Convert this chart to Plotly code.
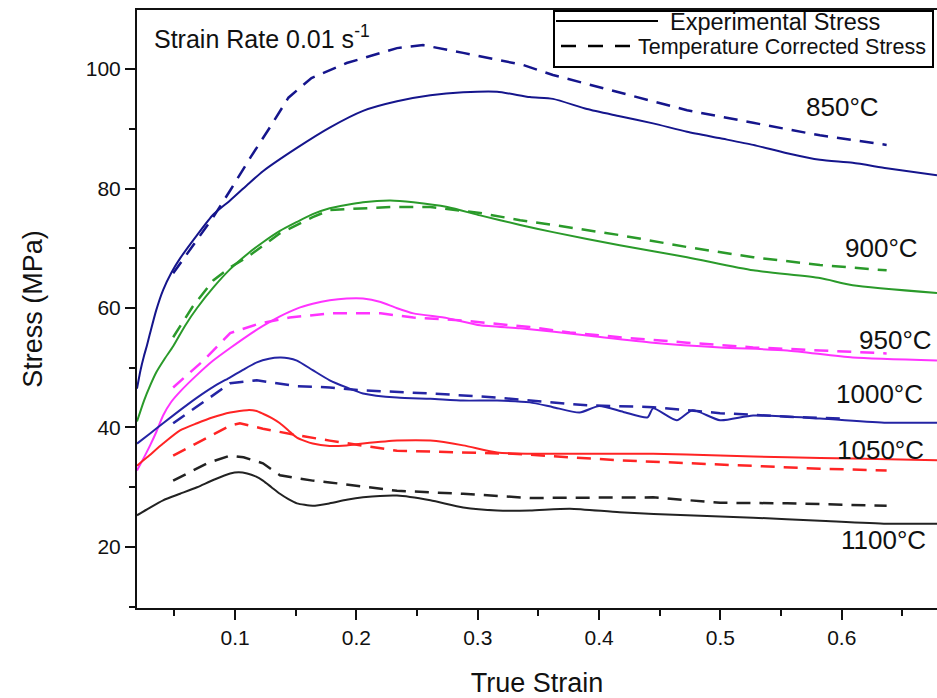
import plotly.graph_objects as go

# Flow curves at a strain rate of 0.01 s^-1 (true strain, stress in MPa)
x850 = [0.0192, 0.022, 0.025, 0.0275, 0.030, 0.035, 0.0407, 0.0475, 0.0547, 0.0687, 0.0819, 0.0959, 0.110, 0.123,
        0.151, 0.178, 0.2055, 0.2335, 0.261, 0.288, 0.316, 0.343, 0.362, 0.390, 0.417, 0.4445, 0.4725, 0.500,
        0.527, 0.555, 0.582, 0.609, 0.637, 0.6785]
y850 = [46.5, 49.5, 52.0, 53.8, 55.8, 59.6, 63.0, 65.9, 68.3, 72.2, 75.6, 78.0, 80.6, 82.9,
        86.8, 90.2, 93.0, 94.6, 95.6, 96.1, 96.2, 95.3, 95.0, 93.3, 92.1, 90.9, 89.5, 88.4,
        87.3, 85.9, 84.8, 84.3, 83.4, 82.2]
x850c = [0.049, 0.082, 0.097, 0.113, 0.128, 0.144, 0.163, 0.192, 0.2335, 0.255, 0.288, 0.316, 0.337, 0.362,
         0.417, 0.4725, 0.527, 0.582, 0.637]
y850c = [65.8, 75.2, 80.0, 85.3, 90.0, 95.2, 98.5, 101.0, 103.5, 104.0, 102.7, 101.5, 100.7, 99.0,
         96.0, 93.1, 91.0, 88.9, 87.3]

x900 = [0.0192, 0.025, 0.030, 0.035, 0.042, 0.049, 0.0587, 0.0687, 0.082, 0.096, 0.110, 0.123, 0.137, 0.151, 0.164,
        0.178, 0.2055, 0.228, 0.247, 0.275, 0.302, 0.335, 0.362, 0.417, 0.4725, 0.527, 0.582, 0.609, 0.6785]
y900 = [41.0, 44.5, 47.0, 49.2, 51.5, 53.6, 57.0, 60.0, 63.4, 66.5, 69.0, 71.0, 72.9, 74.4, 75.7,
        76.7, 77.7, 78.0, 77.7, 76.9, 75.5, 73.9, 72.7, 70.5, 68.5, 66.3, 65.0, 63.8, 62.5]
x900c = [0.049, 0.065, 0.082, 0.096, 0.110, 0.137, 0.164, 0.178, 0.228, 0.261, 0.302, 0.335, 0.362, 0.417, 0.4725,
         0.527, 0.582, 0.637]
y900c = [55.1, 60.2, 64.6, 66.8, 68.5, 72.5, 75.2, 76.4, 76.9, 76.9, 75.9, 74.7, 73.9, 72.2, 70.2,
         68.5, 67.2, 66.3]

x950 = [0.0192, 0.025, 0.030, 0.035, 0.0407, 0.0475, 0.0547, 0.0687, 0.082, 0.096, 0.110, 0.123, 0.137, 0.151,
        0.164, 0.178, 0.192, 0.2055, 0.220, 0.233, 0.247, 0.275, 0.302, 0.335, 0.390, 0.4445, 0.500, 0.555, 0.609,
        0.6785]
y950 = [32.8, 35.0, 37.0, 39.2, 42.0, 44.3, 46.0, 48.8, 51.2, 53.3, 55.3, 57.0, 58.6, 59.9,
        60.7, 61.3, 61.6, 61.6, 61.0, 60.0, 59.1, 58.3, 57.1, 56.6, 55.4, 54.2, 53.4, 52.9, 51.7,
        51.2]
x950c = [0.049, 0.074, 0.096, 0.120, 0.145, 0.178, 0.220, 0.247, 0.288, 0.343, 0.376, 0.417, 0.4725, 0.527, 0.582,
         0.637]
y950c = [46.7, 51.2, 55.8, 57.4, 58.4, 59.1, 59.1, 58.4, 57.9, 56.8, 55.9, 55.1, 54.2, 53.4, 52.9,
         52.4]

x1000 = [0.0192, 0.030, 0.0407, 0.0547, 0.0687, 0.082, 0.096, 0.107, 0.118, 0.128, 0.137, 0.144, 0.151, 0.164,
         0.178, 0.192, 0.2055, 0.2335, 0.261, 0.288, 0.316, 0.343, 0.362, 0.384, 0.400, 0.420, 0.440, 0.4445,
         0.464, 0.477, 0.4997, 0.527, 0.582, 0.637, 0.6785]
y1000 = [37.3, 39.0, 40.7, 42.9, 45.0, 46.8, 48.4, 49.7, 50.9, 51.5, 51.7, 51.6, 51.2, 49.6,
         47.9, 46.7, 45.7, 45.0, 44.8, 44.5, 44.5, 44.2, 43.4, 42.5, 43.6, 42.6, 41.7, 43.2,
         41.2, 42.9, 41.2, 42.0, 41.5, 40.8, 40.8]
x1000c = [0.049, 0.079, 0.096, 0.118, 0.129, 0.151, 0.178, 0.2055, 0.261, 0.316, 0.390, 0.4445, 0.4997, 0.555,
          0.600]
y1000c = [40.7, 45.0, 47.4, 47.9, 47.6, 46.9, 46.7, 46.2, 45.7, 45.0, 43.7, 43.4, 42.4, 41.8,
          41.5]

x1050 = [0.0192, 0.0275, 0.0407, 0.0547, 0.0687, 0.0819, 0.096, 0.110, 0.117, 0.123, 0.130, 0.137, 0.144, 0.151,
         0.164, 0.178, 0.192, 0.2055, 0.2335, 0.261, 0.288, 0.316, 0.343, 0.390, 0.4445, 0.4997, 0.555, 0.609,
         0.6785]
y1050 = [33.6, 35.0, 37.3, 39.5, 40.7, 41.7, 42.5, 42.9, 42.8, 42.3, 41.6, 40.7, 39.5, 38.3,
         37.3, 36.9, 37.0, 37.3, 37.8, 37.8, 37.0, 35.8, 35.6, 35.6, 35.6, 35.3, 35.0, 34.8,
         34.5]
x1050c = [0.049, 0.077, 0.096, 0.104, 0.123, 0.151, 0.178, 0.2335, 0.288, 0.329, 0.417, 0.4725, 0.527, 0.582,
          0.637]
y1050c = [35.3, 38.3, 40.3, 40.7, 39.8, 38.7, 37.8, 36.1, 35.8, 35.6, 34.5, 34.0, 33.6, 33.1,
          32.8]

x1100 = [0.0192, 0.030, 0.0407, 0.0547, 0.0687, 0.082, 0.096, 0.103, 0.110, 0.117, 0.123, 0.130, 0.137, 0.144,
         0.151, 0.164, 0.178, 0.192, 0.2055, 0.2335, 0.261, 0.288, 0.316, 0.343, 0.376, 0.417, 0.4725, 0.527,
         0.582, 0.637, 0.6785]
y1100 = [25.3, 26.6, 27.8, 28.9, 30.0, 31.2, 32.3, 32.5, 32.3, 31.8, 31.1, 30.0, 28.9, 28.0,
         27.3, 26.9, 27.3, 27.9, 28.3, 28.6, 27.8, 26.6, 26.1, 26.1, 26.4, 25.8, 25.3, 24.9,
         24.4, 23.9, 23.9]
x1100c = [0.049, 0.077, 0.096, 0.107, 0.123, 0.137, 0.164, 0.178, 0.2335, 0.288, 0.343, 0.390, 0.4445, 0.4997,
          0.555, 0.637]
y1100c = [31.1, 34.0, 35.3, 35.0, 34.0, 32.0, 31.1, 30.8, 29.4, 28.9, 28.2, 28.3, 28.3, 27.4,
          27.3, 26.9]

temps = ["850", "900", "950", "1000", "1050", "1100"]
colors = ["#15158c", "#2a9a2a", "#ff33ff", "#2424a4", "#ff2424", "#222222"]
experimental = [(x850, y850), (x900, y900), (x950, y950), (x1000, y1000), (x1050, y1050), (x1100, y1100)]
corrected = [(x850c, y850c), (x900c, y900c), (x950c, y950c), (x1000c, y1000c), (x1050c, y1050c), (x1100c, y1100c)]

# Label anchor points (strain, stress) for each temperature
label_x = [0.601, 0.633, 0.644, 0.631, 0.632, 0.634]
label_y = [93.6, 70.0, 54.6, 45.6, 36.2, 21.1]

FONT = "Liberation Sans, Arial, sans-serif"

fig = go.Figure()
for t, c, (xe, ye), (xc, yc) in zip(temps, colors, experimental, corrected):
    fig.add_trace(go.Scatter(x=xe, y=ye, mode="lines", line=dict(color=c, width=2, shape="spline", smoothing=0.6),
                             name=f"{t}°C", showlegend=False))
    fig.add_trace(go.Scatter(x=xc, y=yc, mode="lines", line=dict(color=c, width=2.5, dash="14px,9px"),
                             name=f"{t}°C corrected", showlegend=False))

for t, lx, ly in zip(temps, label_x, label_y):
    fig.add_annotation(x=lx, y=ly, text=f"{t}°C", showarrow=False,
                       font=dict(family=FONT, size=26, color="#111"))

fig.add_annotation(xref="paper", yref="paper", x=0.019, y=0.985, xanchor="left", yanchor="top",
                   text="Strain Rate 0.01 s<sup>-1</sup>", showarrow=False,
                   font=dict(family=FONT, size=25, color="#111"))

# Legend box drawn in paper coordinates
def px(p):
    return (p - 137) / 800.0


def py(p):
    return (607.7 - p) / 597.7


fig.add_shape(type="rect", xref="paper", yref="paper", x0=px(554), x1=px(933), y0=py(67), y1=py(11),
              line=dict(color="black", width=2), fillcolor="white", layer="above")
fig.add_shape(type="line", xref="paper", yref="paper", x0=px(556), x1=px(658), y0=py(21), y1=py(21),
              line=dict(color="black", width=2), layer="above")
fig.add_shape(type="line", xref="paper", yref="paper", x0=px(561), x1=px(633), y0=py(46), y1=py(46),
              line=dict(color="black", width=2.5, dash="15px,12px"), layer="above")
fig.add_annotation(xref="paper", yref="paper", x=px(668), y=py(22), xanchor="left", yanchor="middle",
                   text="Experimental Stress", showarrow=False,
                   font=dict(family=FONT, size=23.5, color="#111"))
fig.add_annotation(xref="paper", yref="paper", x=px(636), y=py(47), xanchor="left", yanchor="middle",
                   text="Temperature Corrected Stress", showarrow=False,
                   font=dict(family=FONT, size=21.5, color="#111"))

fig.update_layout(
    width=937, height=698,
    margin=dict(l=137, r=0, t=10, b=90),
    plot_bgcolor="white", paper_bgcolor="white",
    font=dict(family=FONT, size=21, color="#111"),
    showlegend=False,
)
fig.update_xaxes(
    range=[0.0192, 0.6785], showgrid=False, zeroline=False,
    showline=True, linecolor="#111", linewidth=2, mirror=True,
    ticks="outside", ticklen=10, tickwidth=2, tickcolor="#111",
    tickvals=[0.1, 0.2, 0.3, 0.4, 0.5, 0.6], ticktext=["0.1", "0.2", "0.3", "0.4", "0.5", "0.6"],
    minor=dict(ticks="outside", ticklen=6, tickwidth=2, tickcolor="#111", tick0=0.05, dtick=0.1),
    tickfont=dict(size=21),
    title=dict(text="True Strain", font=dict(size=27), standoff=26),
)
fig.update_yaxes(
    range=[9.78, 109.88], showgrid=False, zeroline=False,
    showline=True, linecolor="#111", linewidth=2, mirror=False,
    ticks="outside", ticklen=10, tickwidth=2, tickcolor="#111",
    tickvals=[20, 40, 60, 80, 100],
    minor=dict(ticks="outside", ticklen=6, tickwidth=2, tickcolor="#111", tick0=10, dtick=20),
    tickfont=dict(size=21),
    title=dict(text="Stress (MPa)", font=dict(size=27), standoff=35),
)

fig.write_html("out.html")
